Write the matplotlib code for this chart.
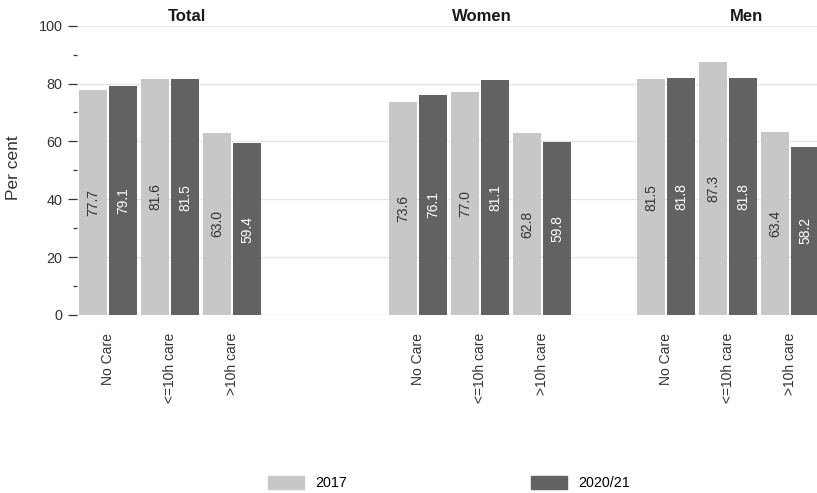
import numpy as np
import matplotlib.pyplot as plt
from matplotlib.ticker import MultipleLocator

plt.rcParams['font.family'] = ['Liberation Sans', 'DejaVu Sans']

groups = ["Total", "Women", "Men"]
categories = ["No Care", "<=10h care", ">10h care"]
years = ["2017", "2020/21"]

vals_2017 = {"Total": [77.7, 81.6, 63.0],
             "Women": [73.6, 77.0, 62.8],
             "Men":   [81.5, 87.3, 63.4]}
vals_2021 = {"Total": [79.1, 81.5, 59.4],
             "Women": [76.1, 81.1, 59.8],
             "Men":   [81.8, 81.8, 58.2]}

# layout
group_start = [0, 5, 9]          # first category slot of each group
title_pos = [1.28, 6.03, 10.3]   # facet title x (data units)
light = "#c6c7c9"
dark = "#626264"
width = 0.45
off = 0.242

fig = plt.figure(figsize=(8.17, 4.93), dpi=100)
ax = fig.add_axes([76.7 / 817, 1 - 315 / 493, 1 - 76.7 / 817, (315 - 25.7) / 493])

xticks, xlabels = [], []
for g, start in zip(groups, group_start):
    x = start + np.arange(len(categories))
    ax.bar(x - off, vals_2017[g], width, color=light, zorder=2)
    ax.bar(x + off, vals_2021[g], width, color=dark, zorder=2)
    for xi, v in zip(x, vals_2017[g]):
        ax.text(xi - off, v / 2, f"{v:.1f}", rotation=90, ha="center", va="center",
                fontsize=10, color="#333333")
    for xi, v in zip(x, vals_2021[g]):
        ax.text(xi + off, v / 2, f"{v:.1f}", rotation=90, ha="center", va="center",
                fontsize=10, color="white")
    xticks += list(x)
    xlabels += categories

for g, tx in zip(groups, title_pos):
    ax.text(tx, 101.6, g, ha="center", va="baseline", fontsize=12, fontweight="bold",
            color="#1a1a1a")

ax.set_xlim(-0.505, (817 - 108) / 62)
ax.set_ylim(0, 100)
ax.set_xticks(xticks)
ax.set_xticklabels(xlabels, rotation=90, va="top", ha="center", fontsize=10, color="#333333")
ax.tick_params(axis="x", length=0, pad=13)
ax.yaxis.set_major_locator(MultipleLocator(20))
ax.yaxis.set_minor_locator(MultipleLocator(10))
ax.tick_params(axis="y", which="major", length=6.3, width=0.9, color="#333333",
               labelsize=10.4, labelcolor="#333333", pad=4)
ax.tick_params(axis="y", which="minor", length=3, width=0.9, color="#333333")
ax.grid(axis="y", which="major", color="#e6e6e6", linewidth=1.0, zorder=0)
ax.set_axisbelow(True)
for s in ax.spines.values():
    s.set_visible(False)
ax.set_ylabel("Per cent", fontsize=12.5, color="#333333")
ax.yaxis.set_label_coords(-0.075, 0.51)

handles = [plt.Rectangle((0, 0), 1, 1, color=light), plt.Rectangle((0, 0), 1, 1, color=dark)]
fig.legend(handles, years, loc="center", bbox_to_anchor=(449 / 817, 1 - 483 / 493),
           ncol=2, frameon=False, fontsize=10.3, handlelength=2.5, handleheight=1.05,
           handletextpad=0.77, columnspacing=12.9, borderpad=0)

fig.savefig("out.png", dpi=100)
